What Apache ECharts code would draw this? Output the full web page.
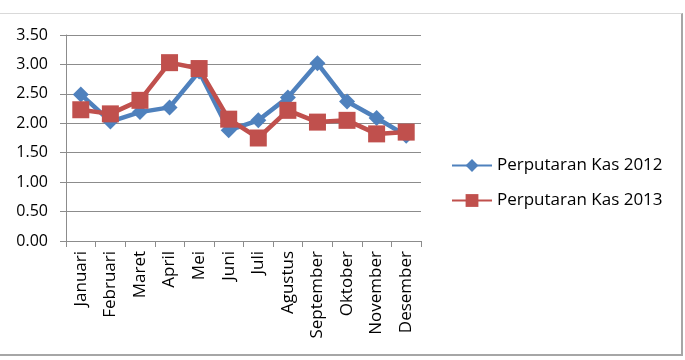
<!DOCTYPE html>
<html>
<head>
<meta charset="utf-8">
<script src="https://cdn.jsdelivr.net/npm/echarts@6/dist/echarts.min.js"></script>
<style>
  html, body { margin: 0; padding: 0; background: #fff; }
  #chart { width: 685px; height: 360px; }
  #frame {
    position: absolute; left: 0; top: 13px; width: 681px; height: 340px;
    border-top: 1px solid #d9d9d9; border-right: 2px solid #a6a6a6;
    border-bottom: 2px solid #a6a6a6; pointer-events: none;
  }
</style>
</head>
<body>
<div id="chart"></div>
<div id="frame"></div>
<script>
var months = ['Januari', 'Februari', 'Maret', 'April', 'Mei', 'Juni', 'Juli',
    'Agustus', 'September', 'Oktober', 'November', 'Desember'];
var kas2012 = [2.49, 2.03, 2.19, 2.27, 2.88, 1.88, 2.05, 2.44, 3.02, 2.37, 2.09, 1.79];
var kas2013 = [2.23, 2.16, 2.39, 3.03, 2.93, 2.07, 1.75, 2.22, 2.02, 2.05, 1.82, 1.85];
var yTicks = { min: 0, max: 3.5, step: 0.5 };

var font = 'Open Sans';
var chart = echarts.init(document.getElementById('chart'));
chart.setOption({
    animation: false,
    textStyle: { fontFamily: font },
    grid: { left: 66, right: 264, top: 35, bottom: 119 },
    legend: {
        orient: 'vertical',
        left: 446,
        top: 152,
        itemWidth: 40,
        itemHeight: 16,
        itemGap: 18,
        textStyle: { fontFamily: font, fontSize: 17, color: '#000' },
        data: ['Perputaran Kas 2012', 'Perputaran Kas 2013']
    },
    xAxis: {
        type: 'category',
        data: months,
        boundaryGap: true,
        axisLine: { lineStyle: { color: '#8c8c8c', width: 1 } },
        axisTick: { show: true, length: 6, lineStyle: { color: '#8c8c8c' } },
        axisLabel: { rotate: 90, interval: 0, fontSize: 17, color: '#000', margin: 10 }
    },
    yAxis: {
        type: 'value',
        min: yTicks.min,
        max: yTicks.max,
        interval: yTicks.step,
        axisLine: { show: true, lineStyle: { color: '#8c8c8c' } },
        axisTick: { show: true, length: 6, lineStyle: { color: '#8c8c8c' } },
        splitLine: { lineStyle: { color: '#8c8c8c' } },
        axisLabel: {
            fontSize: 16, color: '#000', margin: 18,
            formatter: function (v) { return v.toFixed(2); }
        }
    },
    series: [
        {
            name: 'Perputaran Kas 2012',
            type: 'line',
            data: kas2012,
            symbol: 'diamond',
            symbolSize: 16,
            itemStyle: { color: '#4F81BD' },
            lineStyle: { color: '#4F81BD', width: 4.5 }
        },
        {
            name: 'Perputaran Kas 2013',
            type: 'line',
            data: kas2013,
            symbol: 'rect',
            symbolSize: 17,
            itemStyle: { color: '#C0504D' },
            lineStyle: { color: '#C0504D', width: 4.5 }
        }
    ]
});
</script>
</body>
</html>
